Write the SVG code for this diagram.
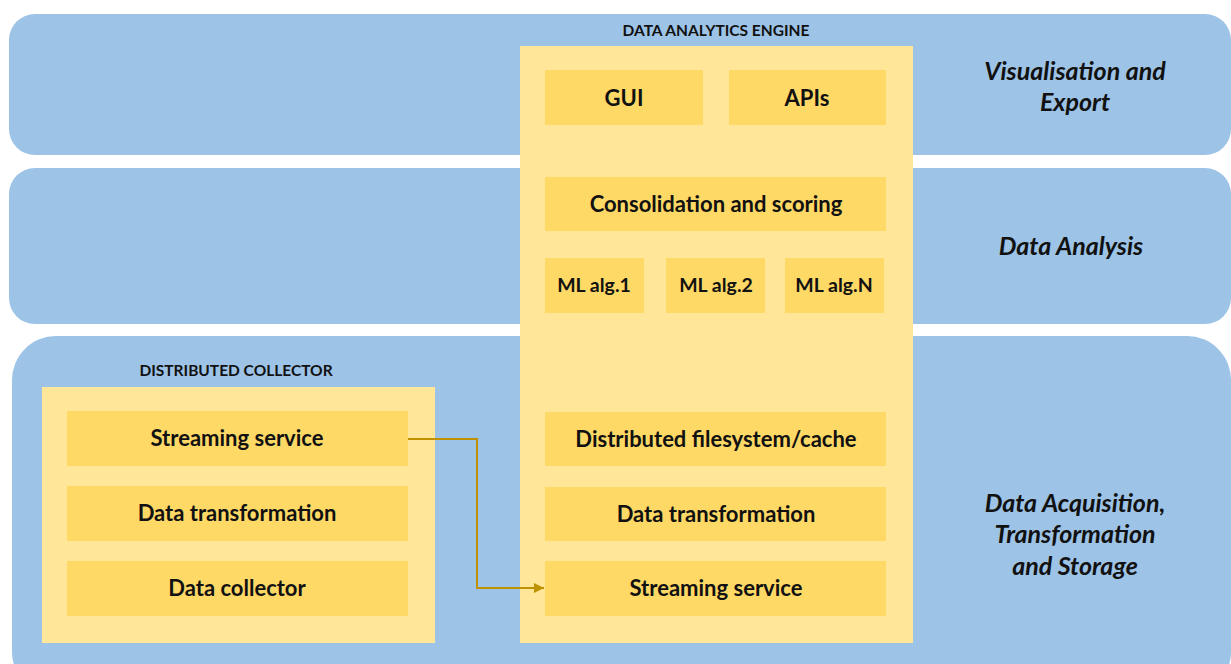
<svg xmlns="http://www.w3.org/2000/svg" width="1231" height="664" viewBox="0 0 1231 664">
  <style>
    .band { fill: #9DC3E6; }
    .frame { fill: #FFE699; }
    .box { fill: #FFD966; }
    .lbl { font-family: Lato, "Open Sans", "Liberation Sans", sans-serif; font-weight: 700; font-size: 22px; fill: #111; text-anchor: middle; }
    .ml { font-size: 19.5px; }
    .ttl { font-family: Lato, "Open Sans", "Liberation Sans", sans-serif; font-weight: 700; font-size: 15.5px; fill: #111; text-anchor: middle; }
    .layer { font-family: Lato, "Open Sans", "Liberation Sans", sans-serif; font-weight: 700; font-style: italic; font-size: 25px; fill: #111; text-anchor: middle; }
    .link { fill: none; stroke: #BF9000; stroke-width: 2; }
  </style>
  <defs>
    <marker id="arrow" viewBox="0 0 10 10" refX="10" refY="5" markerWidth="5" markerHeight="5" orient="auto">
      <path d="M0,0 L10,5 L0,10 z" fill="#BF9000"/>
    </marker>
  </defs>

  <rect width="1231" height="664" fill="#FFFFFF"/>

  <!-- layer bands -->
  <g id="layer-visualisation">
    <rect class="band" x="9" y="14" width="1222" height="141" rx="26"/>
    <text class="layer" x="1075" y="80">Visualisation and</text>
    <text class="layer" x="1075" y="111">Export</text>
  </g>
  <g id="layer-analysis">
    <rect class="band" x="9" y="168" width="1222" height="156" rx="26"/>
    <text class="layer" x="1071" y="255">Data Analysis</text>
  </g>
  <g id="layer-acquisition">
    <rect class="band" x="12" y="336" width="1219" height="360" rx="44"/>
    <text class="layer" x="1075" y="512">Data Acquisition,</text>
    <text class="layer" x="1075" y="543">Transformation</text>
    <text class="layer" x="1075" y="575">and Storage</text>
  </g>

  <!-- data analytics engine -->
  <g id="engine">
    <rect class="frame" x="520" y="46" width="393" height="597"/>
    <text class="ttl" x="716" y="36">DATA ANALYTICS ENGINE</text>
  </g>
  <g id="gui">
    <rect class="box" x="545" y="70" width="158" height="55"/>
    <text class="lbl" x="624" y="106">GUI</text>
  </g>
  <g id="apis">
    <rect class="box" x="729" y="70" width="157" height="55"/>
    <text class="lbl" x="807" y="106">APIs</text>
  </g>
  <g id="consolidation">
    <rect class="box" x="545" y="177" width="341" height="54"/>
    <text class="lbl" x="716" y="212">Consolidation and scoring</text>
  </g>
  <g id="ml-alg-1">
    <rect class="box" x="545" y="258" width="99" height="55"/>
    <text class="lbl ml" x="594" y="292">ML alg.1</text>
  </g>
  <g id="ml-alg-2">
    <rect class="box" x="666" y="258" width="99" height="55"/>
    <text class="lbl ml" x="716" y="292">ML alg.2</text>
  </g>
  <g id="ml-alg-n">
    <rect class="box" x="785" y="258" width="99" height="55"/>
    <text class="lbl ml" x="834" y="292">ML alg.N</text>
  </g>
  <g id="dfs">
    <rect class="box" x="545" y="412" width="341" height="54"/>
    <text class="lbl" x="716" y="447">Distributed filesystem/cache</text>
  </g>
  <g id="engine-transformation">
    <rect class="box" x="545" y="487" width="341" height="54"/>
    <text class="lbl" x="716" y="522">Data transformation</text>
  </g>
  <g id="engine-streaming">
    <rect class="box" x="545" y="561" width="341" height="55"/>
    <text class="lbl" x="716" y="596">Streaming service</text>
  </g>

  <!-- distributed collector -->
  <g id="collector">
    <rect class="frame" x="42" y="387" width="393" height="256"/>
    <text class="ttl" x="236" y="376">DISTRIBUTED COLLECTOR</text>
  </g>
  <g id="collector-streaming">
    <rect class="box" x="67" y="411" width="341" height="55"/>
    <text class="lbl" x="237" y="446">Streaming service</text>
  </g>
  <g id="collector-transformation">
    <rect class="box" x="67" y="486" width="341" height="55"/>
    <text class="lbl" x="237" y="521">Data transformation</text>
  </g>
  <g id="data-collector">
    <rect class="box" x="67" y="561" width="341" height="55"/>
    <text class="lbl" x="237" y="596">Data collector</text>
  </g>

  <!-- connectors -->
  <g id="connectors">
    <path class="link" d="M408,439 H477 V588 H544" marker-end="url(#arrow)"/>
  </g>
</svg>
